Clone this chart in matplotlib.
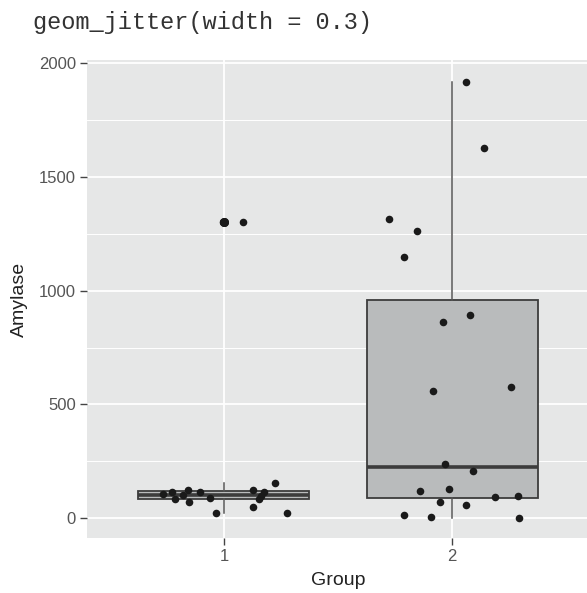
import numpy as np
import matplotlib.pyplot as plt
from matplotlib.ticker import MultipleLocator

plt.rcParams['font.family'] = ['Liberation Sans', 'DejaVu Sans']

# Values (jittered x positions included)
group_ticks = [1, 2]
group_labels = ['1', '2']

g1_x = [0.734, 0.772, 0.785, 0.821, 0.841, 0.846, 0.896, 0.937, 0.964,
        1.126, 1.126, 1.152, 1.161, 1.175, 1.225, 1.275, 0.996, 1.083]
g1_amylase = [108, 118, 87, 102, 124, 71, 115, 89, 22,
              124, 52, 87, 100, 118, 156, 22, 1300, 1300]

g2_x = [2.061, 2.140, 1.724, 1.846, 1.789, 1.961, 2.079, 1.917, 2.259,
        1.971, 2.092, 1.861, 1.988, 2.186, 2.288, 1.946, 2.063, 1.788,
        1.909, 2.295]
g2_amylase = [1914, 1626, 1316, 1263, 1146, 862, 893, 561, 578,
              240, 208, 119, 130, 95, 99, 71, 57, 14,
              7, 3]

# box summaries (whisker low, Q1, median, Q3, whisker high, outliers)
box_whislo = [22, 3]
box_q1 = [84, 89]
box_med = [103, 226]
box_q3 = [120, 958]
box_whishi = [156, 1914]
box_outliers = [[1300, 1300], []]

fig = plt.figure(figsize=(5.87, 5.93), dpi=100)
ax = fig.add_axes([87 / 587, 1 - 538 / 593, 502 / 587, 478 / 593])
ax.set_facecolor('#E6E7E7')

stats = []
for i in range(len(group_ticks)):
    stats.append(dict(whislo=box_whislo[i], q1=box_q1[i], med=box_med[i],
                      q3=box_q3[i], whishi=box_whishi[i],
                      fliers=box_outliers[i]))

edge = '#3C3C3C'
ax.bxp(stats, positions=group_ticks, widths=0.75, patch_artist=True,
       showcaps=False,
       boxprops=dict(facecolor='#B9BBBC', edgecolor=edge, linewidth=1.3),
       medianprops=dict(color=edge, linewidth=2.6),
       whiskerprops=dict(color='#555555', linewidth=1.1),
       flierprops=dict(marker='o', markerfacecolor='#1A1A1A',
                       markeredgecolor='#1A1A1A', markersize=5.5))

ax.scatter(g1_x, g1_amylase, s=30, color='#1A1A1A', zorder=3, linewidths=0)
ax.scatter(g2_x, g2_amylase, s=30, color='#1A1A1A', zorder=3, linewidths=0)

ax.set_xlim(0.4, 2.6)
ax.set_ylim(-86, 2012)
ax.set_xticks(group_ticks)
ax.set_xticklabels(group_labels)
ax.yaxis.set_major_locator(MultipleLocator(500))
ax.yaxis.set_minor_locator(MultipleLocator(250))

ax.set_axisbelow(True)
ax.grid(which='major', color='white', linewidth=1.3)
ax.grid(which='minor', axis='y', color='white', linewidth=0.7)
for s in ax.spines.values():
    s.set_visible(False)

ax.tick_params(axis='both', which='major', length=5, width=1,
               color='#444444', labelcolor='#555555', labelsize=12, pad=3)
ax.tick_params(axis='y', which='minor', length=0)

ax.set_xlabel('Group', fontsize=14, color='#222222', labelpad=6)
ax.set_ylabel('Amylase', fontsize=14, color='#222222', labelpad=8)

fig.text(33 / 587, 1 - 22 / 593, 'geom_jitter(width = 0.3)',
         family='Liberation Mono', fontsize=17, va='center', color='#333333')

fig.savefig('out.png', dpi=100)
